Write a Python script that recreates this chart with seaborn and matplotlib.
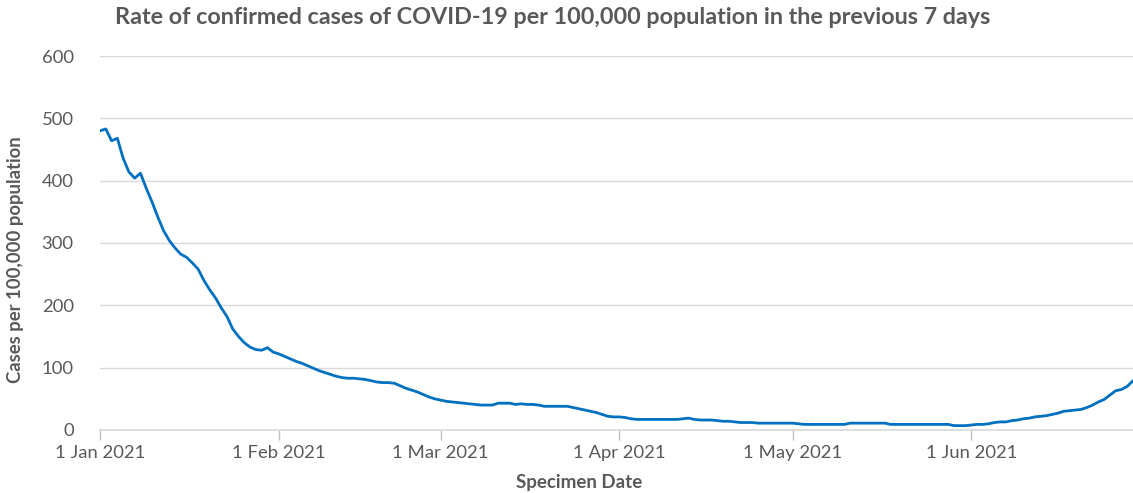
import numpy as np
import pandas as pd
import matplotlib
matplotlib.use("Agg")
import matplotlib.pyplot as plt
import seaborn as sns

# daily 7-day rate per 100,000, 1 Jan 2021 .. 29 Jun 2021
jan = [480, 483, 464, 468, 436, 414, 404, 412, 388, 366, 342, 320, 304, 292, 282, 277,
       268, 258, 240, 225, 212, 196, 182, 162, 150, 140, 133, 129, 128, 132, 125]
feb = [122, 118, 114, 110, 107, 103, 99, 95, 92, 89, 86, 84, 83, 83, 82, 81, 79, 77,
       76, 76, 75, 71, 67, 64, 61, 57, 53, 50]
mar = [48, 46, 45, 44, 43, 42, 41, 40, 40, 40, 43, 43, 43, 41, 42, 41, 41, 40, 38, 38,
       38, 38, 38, 36, 34, 32, 30, 28, 25, 22, 21]
apr = [21, 20, 18, 17, 17, 17, 17, 17, 17, 17, 17, 18, 19, 17, 16, 16, 16, 15, 14, 14,
       13, 12, 12, 12, 11, 11, 11, 11, 11, 11]
may = [11, 10, 9, 9, 9, 9, 9, 9, 9, 9, 11, 11, 11, 11, 11, 11, 11, 9, 9, 9, 9, 9, 9, 9,
       9, 9, 9, 9, 7, 7, 7]
jun = [8, 9, 9, 10, 12, 13, 13, 15, 16, 18, 19, 21, 22, 23, 25, 27, 30, 31, 32, 33, 36,
       40, 45, 49, 56, 63, 65, 70, 79]

tick_dates = ["2021-01-01", "2021-02-01", "2021-03-01", "2021-04-01", "2021-05-01", "2021-06-01"]
tick_labels = ["1 Jan 2021", "1 Feb 2021", "1 Mar 2021", "1 Apr 2021", "1 May 2021", "1 Jun 2021"]

rate = jan + feb + mar + apr + may + jun
df = pd.DataFrame({
    "date": pd.date_range("2021-01-01", periods=len(rate), freq="D"),
    "rate": rate,
})

sns.set_theme(style="whitegrid")
plt.rcParams["font.family"] = ["Lato", "DejaVu Sans"]
grey = "#595959"

fig = plt.figure(figsize=(11.33, 4.93), dpi=100)
ax = fig.add_axes([0.0883, 0.1278, 0.9117, 0.7586])

sns.lineplot(data=df, x="date", y="rate", ax=ax, color="#0070C0", linewidth=2)

ax.set_ylim(0, 600)
ax.set_yticks(range(0, 601, 100))
ax.set_xlim(df["date"].iloc[0], df["date"].iloc[-1])
ax.set_xticks(pd.to_datetime(tick_dates))
ax.set_xticklabels(tick_labels)

ax.grid(axis="y", color="#D9D9D9", linewidth=1)
ax.grid(axis="x", visible=False)
for s in ["top", "right", "left"]:
    ax.spines[s].set_visible(False)
ax.spines["bottom"].set_color("#D9D9D9")
ax.spines["bottom"].set_linewidth(1.2)

ax.tick_params(axis="x", colors=grey, labelsize=13.3, length=7, width=1,
               direction="out", bottom=True, pad=4)
ax.tick_params(axis="x", color="#BFBFBF")
ax.tick_params(axis="y", colors=grey, labelsize=13.3, length=0, pad=19)

ax.set_xlabel("Specimen Date", fontsize=13.5, fontweight="bold", color=grey)
ax.xaxis.set_label_coords(0.464, -0.118)
ax.set_ylabel("Cases per 100,000 population", fontsize=13.3, fontweight="bold",
              color=grey)
ax.yaxis.set_label_coords(-0.074, 0.455)
fig.suptitle("Rate of confirmed cases of COVID-19 per 100,000 population in the previous 7 days",
             x=0.488, y=0.985, fontsize=16.8, fontweight="bold", color=grey)

fig.savefig("out.png", dpi=100)
